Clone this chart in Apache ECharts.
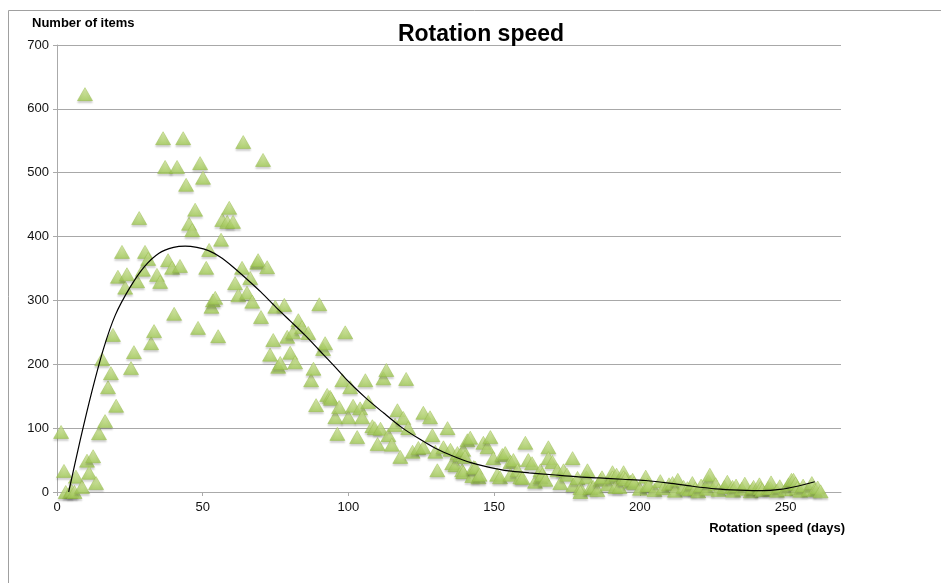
<!DOCTYPE html>
<html>
<head>
<meta charset="utf-8">
<script src="https://cdn.jsdelivr.net/npm/echarts@6/dist/echarts.min.js"></script>
<style>
    html, body { margin: 0; padding: 0; background: #fff; }
    #chart { width: 941px; height: 583px; }
</style>
</head>
<body>
<div id="chart"></div>
<script>
    // items: rotation speed (days) / number of items
    var itemDays = [
        1.4, 2.4, 3, 4.5, 5, 6, 6.5, 8.6, 9.6, 10.3, 11, 12.4, 13.4, 14.4, 15.5, 16.5, 17.5, 18.5, 19.2, 20.3,
        20.9, 22.3, 23.4, 24, 25.4, 26.4, 27.5, 28.2, 29.5, 30.2, 31.3, 32.3, 33.3, 34.3, 35.4, 36.4, 37.1, 38.1, 39.5, 40.2,
        41.2, 42.2, 43.3, 44.3, 45.3, 46.4, 47.4, 48.4, 49.1, 50.1, 51.2, 52.2, 53, 53.5, 54.3, 55.3, 56.3, 56.7, 58.4, 59.1,
        60.4, 61.1, 62.2, 63.5, 63.9, 65.2, 66.3, 67, 68.7, 69, 70, 70.7, 72.1, 73.1, 74.2, 74.9, 75.9, 76.6, 78, 79,
        80, 81, 81.7, 82.8, 84.1, 86.2, 87.2, 88, 88.9, 90, 91.3, 92, 92.7, 93.7, 94, 95.5, 96.2, 96.8, 97.9, 98.9,
        100, 100.6, 101.6, 103, 104, 104.7, 105.8, 106.8, 108.2, 109, 110, 111, 112, 113, 113.7, 114.9, 116, 116.8, 117.8, 118.8,
        119.8, 120.5, 122, 124, 125.7, 125.7, 128, 128.8, 129.8, 130.5, 132.6, 134, 135, 135.6, 136.7, 137.4, 138.4, 139, 139.4, 139.4,
        140, 140.8, 141.8, 142.5, 143, 143.5, 144.6, 145, 146.3, 147.7, 148.7, 149.7, 151, 152, 152.8, 153.8, 155.6, 155.6, 156.6, 158,
        159, 159.7, 160.7, 161.7, 163, 164, 165.9, 165.9, 166.5, 167.6, 168.6, 168.6, 170, 171.7, 172.7, 173.8, 175, 176.9, 177.2, 178.6,
        179.6, 179.6, 181.7, 182, 183, 184, 185.4, 186.5, 187, 189, 190.6, 190.6, 191.6, 192, 193, 194.4, 194.4, 195, 196.8, 197.5,
        198, 200, 202, 202.6, 203, 205, 207, 208, 210, 211.2, 212, 213, 215, 216.3, 217, 218, 219, 220, 221, 223,
        223.6, 224, 226, 227, 229, 230, 231.8, 232, 233, 235, 236, 238, 238.7, 239, 241, 241.4, 242, 244, 244.8, 245,
        247, 248, 250, 251, 252, 252.7, 253.4, 254, 255, 256, 258, 259, 260, 261, 262
    ];
    var itemCounts = [
        94, 33, 0, 0, 2, 0, 24, 8, 623, 49, 30, 56, 14, 92, 208, 111, 164, 186, 246, 135,
        337, 376, 320, 341, 194, 219, 330, 429, 348, 376, 365, 233, 252, 340, 329, 554, 509, 363, 351, 279,
        509, 354, 554, 481, 420, 410, 442, 257, 515, 492, 351, 379, 290, 300, 304, 244, 395, 426, 423, 445,
        423, 327, 308, 351, 548, 312, 335, 298, 359, 363, 274, 520, 352, 215, 238, 290, 196, 202, 293, 243,
        218, 250, 203, 269, 258, 249, 175, 193, 136, 294, 224, 233, 152, 149, 146, 117, 91, 133, 175, 250,
        117, 164, 135, 86, 131, 117, 175, 141, 103, 100, 75, 99, 178, 191, 89, 74, 105, 128, 55, 116,
        177, 100, 63, 69, 70, 124, 117, 89, 63, 34, 70, 100, 66, 45, 42, 61, 58, 34, 66, 31,
        55, 81, 85, 25, 39, 38, 23, 27, 77, 70, 86, 53, 27, 23, 58, 61, 47, 27, 50, 34,
        23, 22, 77, 50, 45, 16, 34, 23, 27, 19, 70, 53, 47, 34, 14, 34, 27, 53, 11, 22,
        6, 0, 23, 34, 6, 8, 3, 19, 23, 12, 31, 23, 8, 27, 8, 31, 23, 20, 16, 19,
        14, 5, 24, 11, 10, 3, 17, 6, 12, 14, 2, 19, 8, 6, 4, 14, 5, 1, 10, 5,
        17, 27, 12, 3, 8, 16, 8, 2, 10, 5, 13, 1, 5, 8, 12, 6, 3, 6, 6, 15,
        2, 9, 4, 12, 19, 19, 13, 6, 2, 10, 4, 14, 3, 7, 1
    ];

    // fitted trend curve
    var trendDays = [4, 8, 12, 16, 20, 25, 30, 35, 40, 44, 48, 52, 56, 60, 65, 70, 75, 80, 85, 90, 95, 100, 106, 112, 118, 124, 130, 136, 142, 148, 155, 162, 170, 178, 186, 194, 202, 210, 218, 226, 234, 242, 248, 254, 260];
    var trendCounts = [0, 82, 158, 225, 277, 320, 353, 374, 383, 385, 383, 378, 368, 354, 334, 313, 290, 268, 246, 222, 198, 173, 147, 124, 102, 84, 68, 56, 46, 39, 33, 30, 27, 24, 22, 20, 18, 14, 9, 5, 3, 2, 4, 9, 16];

    var fontName = '"Liberation Sans", Arial, sans-serif';

    var scatterData = itemDays.map(function (d, i) { return [d, itemCounts[i]]; });
    var trendData = trendDays.map(function (d, i) { return [d, trendCounts[i]]; });

    var myChart = echarts.init(document.getElementById('chart'));
    myChart.setOption({
        backgroundColor: '#fff',
        animation: false,
        title: [
            {
                text: 'Rotation speed',
                left: 481, top: 23, textAlign: 'center', padding: 0,
                textStyle: { fontFamily: fontName, fontSize: 23, fontWeight: 'bold', color: '#000' }
            },
            {
                text: 'Number of items',
                left: 32, top: 17, padding: 0,
                textStyle: { fontFamily: fontName, fontSize: 13, fontWeight: 'bold', color: '#000' }
            },
            {
                text: 'Rotation speed (days)',
                right: 96, top: 522, padding: 0,
                textStyle: { fontFamily: fontName, fontSize: 13, fontWeight: 'bold', color: '#000' }
            }
        ],
        graphic: [
            {
                type: 'polyline',
                shape: { points: [[8.5, 583], [8.5, 10.5], [941, 10.5]] },
                style: { stroke: '#a0a0a0', lineWidth: 1, fill: null }
            }
        ],
        grid: { left: 57, right: 100, top: 45, bottom: 91 },
        xAxis: {
            type: 'value',
            min: 0, max: 269, interval: 50,
            axisLine: { lineStyle: { color: '#aaa' } },
            axisTick: { show: true, length: 4, lineStyle: { color: '#aaa' } },
            axisLabel: { showMaxLabel: false, color: '#111', fontSize: 13, fontFamily: fontName, margin: 9 },
            splitLine: { show: false }
        },
        yAxis: {
            type: 'value',
            min: 0, max: 700, interval: 100,
            axisLine: { show: true, lineStyle: { color: '#aaa' } },
            axisTick: { show: true, length: 4, lineStyle: { color: '#aaa' } },
            axisLabel: { color: '#111', fontSize: 13, fontFamily: fontName, margin: 8 },
            splitLine: { lineStyle: { color: '#a8a8a8', width: 1 } }
        },
        series: [
            {
                type: 'scatter',
                data: scatterData,
                symbol: 'triangle',
                symbolSize: [15, 13],
                itemStyle: {
                    color: {
                        type: 'linear', x: 0, y: 0, x2: 0, y2: 1,
                        colorStops: [
                            { offset: 0, color: '#dcf0a4' },
                            { offset: 1, color: '#a2cc55' }
                        ]
                    },
                    borderColor: '#93ba46',
                    borderWidth: 0.6,
                    shadowBlur: 2,
                    shadowOffsetY: 2,
                    shadowColor: 'rgba(0,0,0,0.22)'
                },
                z: 2
            },
            {
                type: 'line',
                data: trendData,
                smooth: 0.3,
                showSymbol: false,
                lineStyle: { color: '#000', width: 1.2 },
                z: 3
            }
        ]
    });
</script>
</body>
</html>
